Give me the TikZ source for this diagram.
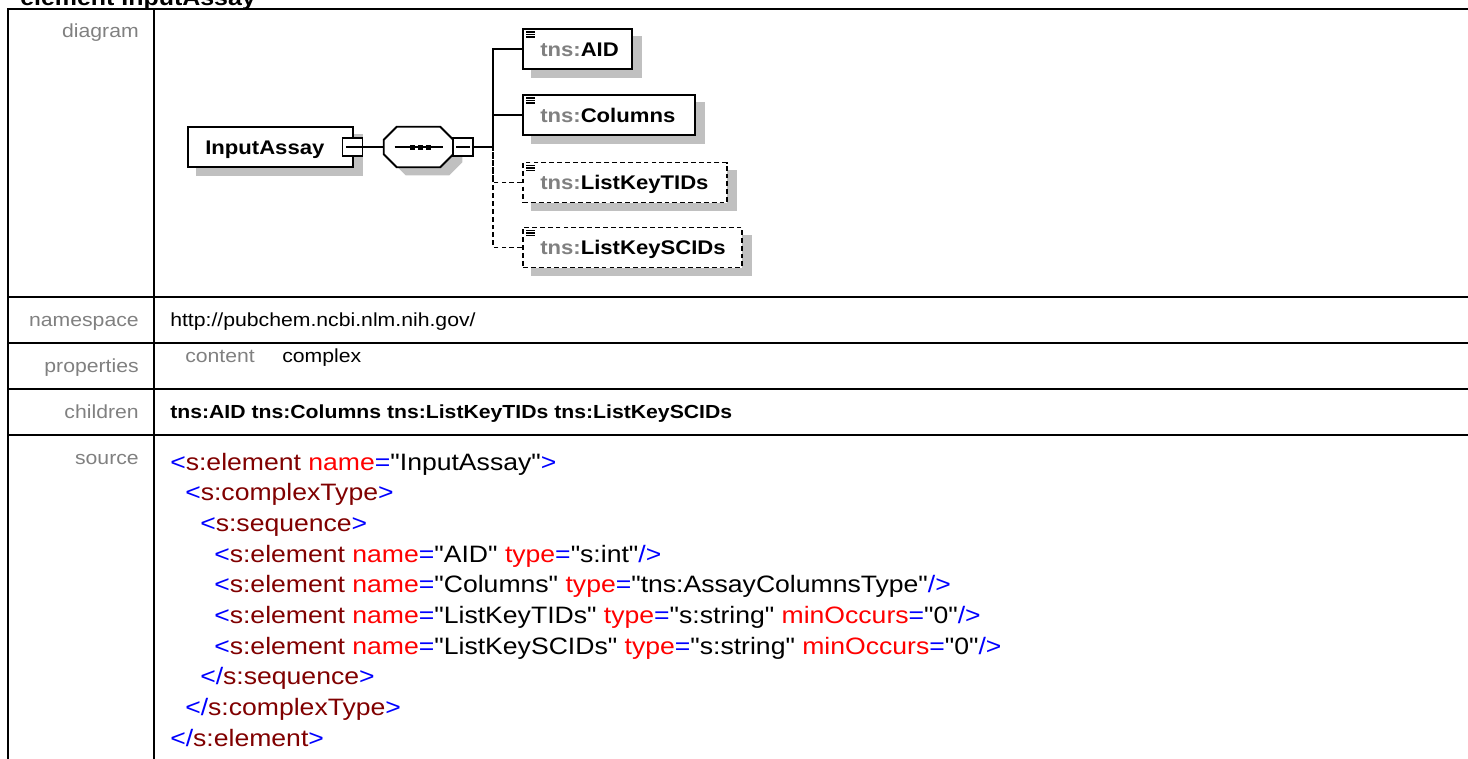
\documentclass[tikz,border=0pt]{standalone}
\usepackage{fontspec}
\setmainfont{Liberation Sans}[Ligatures=TeXOff]
\usepackage{graphicx}
\usetikzlibrary{calc}
\definecolor{lblgray}{HTML}{808080}
\definecolor{shad}{HTML}{C0C0C0}
\definecolor{xblue}{HTML}{0000FF}
\definecolor{xdred}{HTML}{800000}
\definecolor{xred}{HTML}{FF0000}
\newcommand\hx[1]{\scalebox{1.12}[1]{#1}}
\newcommand\XB[1]{\textcolor{xblue}{#1}}
\newcommand\XR[1]{\textcolor{xdred}{#1}}
\newcommand\XA[1]{\textcolor{xred}{#1}}
\pgfdeclarelayer{bg}
\pgfsetlayers{bg,main}
\begin{document}
\begin{tikzpicture}[x=0.75pt,y=-0.75pt,line join=miter,
  tbl/.style={line width=2.1pt,line cap=rect},
  lbl/.style={font=\fontsize{14.2}{16}\selectfont,text=lblgray,anchor=base east,inner sep=0pt},
  val/.style={font=\fontsize{14.2}{16}\selectfont,anchor=base west,inner sep=0pt},
  src/.style={font=\fontsize{17.8}{20}\selectfont,anchor=base west,inner sep=0pt},
  ebox/.style={draw,line width=1.4pt,fill=white,minimum height=30pt,inner sep=0pt},
  obox/.style={ebox,dashed,dash pattern=on 3.6pt off 2.3pt},
  etext/.style={font=\fontsize{14.8}{17}\selectfont\bfseries,anchor=base west,inner sep=0pt},
  mbox/.style={draw,line width=1.1pt,fill=white,minimum width=15pt,minimum height=13.5pt,inner sep=0pt},
  conn/.style={line width=1.2pt},
  oconn/.style={conn,dash pattern=on 3.6pt off 2.3pt},
  shadowfill/.style={fill=shad,draw=none}]
\useasboundingbox (0,0) rectangle (1468,758);

% title (cut off at the top)
\node[anchor=base west,inner sep=0pt,font=\fontsize{16.7}{20}\selectfont\bfseries] (title) at (20,5) {\hx{element InputAssay}};

% table
\draw[tbl] (8,760) -- (8,9) -- (1470,9);
\draw[tbl] (154,9) -- (154,760);
\foreach \yy in {297,343,389,435} \draw[tbl] (8,\yy) -- (1470,\yy);

% labels
\node[lbl] (Ldiag) at (139,37) {\hx{diagram}};
\node[lbl] (Lns) at (139,326) {\hx{namespace}};
\node[lbl] (Lprop) at (139,372) {\hx{properties}};
\node[lbl] (Lchild) at (139,418) {\hx{children}};
\node[lbl] (Lsrc) at (139,464) {\hx{source}};

% values
\node[val] (Vns) at (170,326) {\hx{http://pubchem.ncbi.nlm.nih.gov/}};
\node[val,text=lblgray] (Vcont) at (185,362) {\hx{content}};
\node[val] (Vcplx) at (282,362) {\hx{complex}};
\node[val,font=\fontsize{14.2}{16}\selectfont\bfseries] (Vchild) at (170,418) {\hx{tns:AID tns:Columns tns:ListKeyTIDs tns:ListKeySCIDs}};

% source
\node[src] (s1) at (170,470) {\hx{\XB{<}\XR{s:element} \XA{name}\XB{=}"InputAssay"\XB{>}}};
\node[src] (s2) at (185,500.7) {\hx{\XB{<}\XR{s:complexType}\XB{>}}};
\node[src] (s3) at (200,531.4) {\hx{\XB{<}\XR{s:sequence}\XB{>}}};
\node[src] (s4) at (214,562.1) {\hx{\XB{<}\XR{s:element} \XA{name}\XB{=}"AID" \XA{type}\XB{=}"s:int"\XB{/>}}};
\node[src] (s5) at (214,592.8) {\hx{\XB{<}\XR{s:element} \XA{name}\XB{=}"Columns" \XA{type}\XB{=}"tns:AssayColumnsType"\XB{/>}}};
\node[src] (s6) at (214,623.5) {\hx{\XB{<}\XR{s:element} \XA{name}\XB{=}"ListKeyTIDs" \XA{type}\XB{=}"s:string" \XA{minOccurs}\XB{=}"0"\XB{/>}}};
\node[src] (s7) at (214,654.2) {\hx{\XB{<}\XR{s:element} \XA{name}\XB{=}"ListKeySCIDs" \XA{type}\XB{=}"s:string" \XA{minOccurs}\XB{=}"0"\XB{/>}}};
\node[src] (s8) at (200,684.9) {\hx{\XB{</}\XR{s:sequence}\XB{>}}};
\node[src] (s9) at (185,715.6) {\hx{\XB{</}\XR{s:complexType}\XB{>}}};
\node[src] (s10) at (170,746.3) {\hx{\XB{</}\XR{s:element}\XB{>}}};

% ---------------- diagram ----------------
\node[ebox,minimum width=123.75pt] (root) at (270.5,147) {};
\node[etext] (rootT) at (205,154) {\hx{InputAssay}};
\node[mbox] (m1) at (352.5,147) {};
\draw[line width=1pt] ($(m1.west)+(4,0)$) -- ($(m1.east)+(-4,0)$);

\node[minimum width=51.75pt,minimum height=30pt,inner sep=0pt] (seq) at (418.5,147) {};
\draw[line width=1.4pt,fill=white] ($(seq.north west)+(13,0)$) -- ($(seq.north east)+(-13,0)$) -- ($(seq.north east)+(0,13)$) -- ($(seq.south east)+(0,-13)$) -- ($(seq.south east)+(-13,0)$) -- ($(seq.south west)+(13,0)$) -- ($(seq.south west)+(0,-13)$) -- ($(seq.north west)+(0,13)$) -- cycle;
\draw[line width=1pt] ($(seq.west)+(11,0)$) -- ($(seq.east)+(-10,0)$);
\foreach \dx in {-9,-1,7} \fill ($(seq.center)+(\dx,-2.5)$) rectangle +(5,5);
\node[mbox] (m2) at (463,147) {};
\draw[line width=1pt] ($(m2.west)+(4,0)$) -- ($(m2.east)+(-4,0)$);

\coordinate (trunk) at (493,147);

\node[ebox,minimum width=81.75pt] (cAID) at (577.5,49) {};
\node[ebox,minimum width=129pt] (cCol) at (609,115) {};
\node[obox,minimum width=153pt] (cTID) at (625,182.5) {};
\node[obox,minimum width=164.25pt] (cSCID) at (632.5,247.5) {};

\node[etext] (tAID) at (540,56) {\hx{\textcolor{lblgray}{tns:}AID}};
\node[etext] (tCol) at (540,122) {\hx{\textcolor{lblgray}{tns:}Columns}};
\node[etext] (tTID) at (540,189.5) {\hx{\textcolor{lblgray}{tns:}ListKeyTIDs}};
\node[etext] (tSCID) at (540,254.5) {\hx{\textcolor{lblgray}{tns:}ListKeySCIDs}};

% element icons
\foreach \b in {cAID,cCol,cTID,cSCID} {
  \foreach \dy in {4,6.5,9} \draw[line width=0.9pt] ($(\b.north west)+(4,\dy)$) -- +(9,0);
}

% connectors
\draw[conn] (root.east) -- (m1.east);
\draw[conn] (m1.east) -- (seq.west);
\draw[conn] (m2.east) -- (trunk);
\draw[conn] (cAID.west) -| (trunk);
\draw[conn] (cCol.west) -| (trunk);
\draw[oconn] (cTID.west) -| (trunk);
\draw[oconn] (cSCID.west) -| (trunk);

% shadows
\begin{pgfonlayer}{bg}
\foreach \b in {root,cAID,cCol,cTID,cSCID}
  \fill[shadowfill] ($(\b.south west)+(9,8)$) rectangle ($(\b.north east)+(9,8)$);
\fill[shadowfill] ($(seq.north west)+(22,8)$) -- ($(seq.north east)+(-4,8)$) -- ($(seq.north east)+(9,21)$) -- ($(seq.south east)+(9,-5)$) -- ($(seq.south east)+(-4,8)$) -- ($(seq.south west)+(22,8)$) -- ($(seq.south west)+(9,-5)$) -- ($(seq.north west)+(9,21)$) -- cycle;
\end{pgfonlayer}
\end{tikzpicture}
\end{document}
